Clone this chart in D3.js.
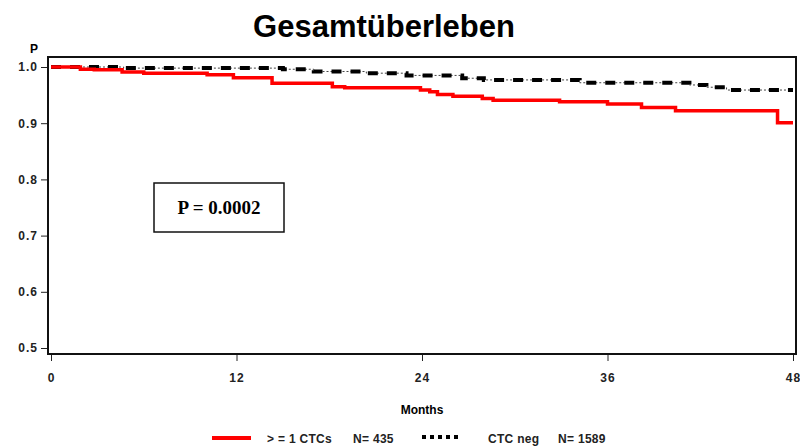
<!DOCTYPE html>
<html lang="de">
<head>
  <meta charset="UTF-8">
  <title>Gesamtüberleben</title>
  <script src="https://d3js.org/d3.v7.min.js"></script>
  <style>
    body { margin: 0; background: #fff; }
    svg { display: block; font-family: "Liberation Sans", Arial, sans-serif; }
    .tick text { font-size: 12px; font-weight: bold; letter-spacing: 1px; fill: #222; }
    .legend text { font-size: 12px; font-weight: bold; letter-spacing: 0.3px; fill: #222; }
  </style>
</head>
<body>
  <div id="chart"></div>
  <script>
    const width = 800, height = 448;

    // Kaplan-Meier steps (months, survival)
    const ctcPosTimes = [0, 1.9, 2.8, 4.6, 6.0, 10.1, 11.8, 14.3, 18.2, 19.0, 23.9, 24.5, 25.0, 26.0, 27.9, 28.6, 32.9, 36.0, 38.2, 40.4, 47.0];
    const ctcPosSurv  = [1.0, 0.996, 0.995, 0.991, 0.989, 0.986, 0.981, 0.971, 0.965, 0.963, 0.959, 0.956, 0.951, 0.948, 0.944, 0.941, 0.938, 0.934, 0.928, 0.922, 0.901];
    const ctcNegTimes = [0, 4.7, 15.0, 17.0, 20.4, 23.0, 26.6, 28.0, 34.2, 41.3, 42.4, 43.7];
    const ctcNegSurv  = [1.0, 0.998, 0.996, 0.992, 0.989, 0.985, 0.980, 0.977, 0.972, 0.968, 0.964, 0.959];
    const maxMonth = 48;

    const xTicks = [0, 12, 24, 36, 48];
    const yTicks = [0.5, 0.6, 0.7, 0.8, 0.9, 1.0];

    const svg = d3.select("#chart").append("svg")
      .attr("width", width)
      .attr("height", height);

    const x = d3.scaleLinear().domain([0, 48]).range([51, 793]);
    const y = d3.scaleLinear().domain([0.5, 1.0]).range([348, 67]);

    // title
    svg.append("text")
      .attr("x", 384).attr("y", 37)
      .attr("text-anchor", "middle")
      .style("font-size", "31px").style("font-weight", "bold")
      .text("Gesamtüberleben");

    // plot frame
    svg.append("rect")
      .attr("x", 48).attr("y", 57)
      .attr("width", 748).attr("height", 297)
      .attr("fill", "none").attr("stroke", "#111").attr("stroke-width", 2);

    // axes
    const xAxis = svg.append("g")
      .attr("transform", "translate(0,355)")
      .call(d3.axisBottom(x).tickValues(xTicks).tickSize(6).tickPadding(12).tickFormat(d3.format("d")));
    const yAxis = svg.append("g")
      .attr("transform", "translate(47,0)")
      .call(d3.axisLeft(y).tickValues(yTicks).tickSize(6).tickPadding(3).tickFormat(d3.format(".1f")));
    [xAxis, yAxis].forEach(a => {
      a.select(".domain").remove();
      a.selectAll(".tick line").attr("stroke", "#222");
    });

    svg.append("text").attr("x", 34).attr("y", 53)
      .attr("text-anchor", "middle")
      .style("font-size", "12px").style("font-weight", "bold")
      .text("P");
    svg.append("text").attr("x", 422).attr("y", 414)
      .attr("text-anchor", "middle")
      .style("font-size", "12px").style("font-weight", "bold")
      .text("Months");

    function steps(times, surv) {
      const pts = times.map((t, i) => [t, surv[i]]);
      pts.push([maxMonth, surv[surv.length - 1]]);
      return pts;
    }

    const line = d3.line()
      .x(d => x(d[0]))
      .y(d => y(d[1]))
      .curve(d3.curveStepAfter);

    const negPts = steps(ctcNegTimes, ctcNegSurv);
    const posPts = steps(ctcPosTimes, ctcPosSurv);

    // CTC neg: thin dotted line with heavy dashes on top
    svg.append("path")
      .attr("d", line(negPts))
      .attr("fill", "none")
      .attr("stroke", "#444")
      .attr("stroke-width", 1)
      .attr("stroke-dasharray", "2,2");
    svg.append("path")
      .attr("d", line(negPts))
      .attr("fill", "none")
      .attr("stroke", "#000")
      .attr("stroke-width", 4)
      .attr("stroke-dasharray", "10,9");

    // >= 1 CTCs
    svg.append("path")
      .attr("d", line(posPts))
      .attr("fill", "none")
      .attr("stroke", "#ff0000")
      .attr("stroke-width", 3.5);

    // p-value box
    svg.append("rect")
      .attr("x", 154).attr("y", 183)
      .attr("width", 130).attr("height", 49)
      .attr("fill", "#fff").attr("stroke", "#111").attr("stroke-width", 1.5);
    svg.append("text")
      .attr("x", 219).attr("y", 214)
      .attr("text-anchor", "middle")
      .style("font-family", "'Liberation Serif', 'Times New Roman', serif")
      .style("font-size", "19px").style("font-weight", "bold")
      .text("P = 0.0002");

    // legend
    const legend = svg.append("g").attr("class", "legend");
    legend.append("line")
      .attr("x1", 212).attr("x2", 251).attr("y1", 438).attr("y2", 438)
      .attr("stroke", "#ff0000").attr("stroke-width", 4);
    legend.append("text").attr("x", 267).attr("y", 443).text("> = 1 CTCs");
    legend.append("text").attr("x", 353).attr("y", 443).text("N= 435");
    legend.append("line")
      .attr("x1", 422).attr("x2", 461).attr("y1", 437).attr("y2", 437)
      .attr("stroke", "#000").attr("stroke-width", 4)
      .attr("stroke-dasharray", "4,4");
    legend.append("text").attr("x", 488).attr("y", 443).text("CTC neg");
    legend.append("text").attr("x", 558).attr("y", 443).text("N= 1589");
  </script>
</body>
</html>
